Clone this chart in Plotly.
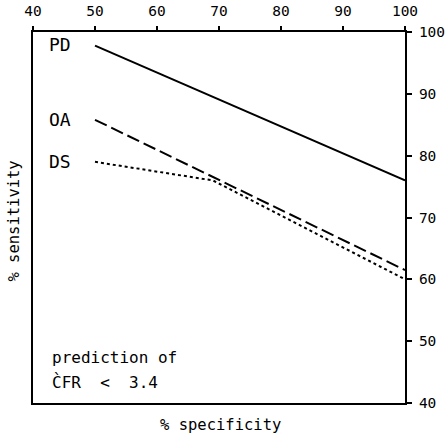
import plotly.graph_objects as go

spec_pd = [50, 100]
sens_pd = [97.8, 76]
spec_oa = [50, 100]
sens_oa = [85.8, 61.5]
spec_ds = [50, 69, 100]
sens_ds = [79, 76, 60]
tick_vals = [40, 50, 60, 70, 80, 90, 100]

FONT = "DejaVu Sans Mono"
fig = go.Figure()
fig.add_trace(go.Scatter(x=spec_pd, y=sens_pd, mode="lines",
                         line=dict(color="black", width=2, dash="solid")))
fig.add_trace(go.Scatter(x=spec_oa, y=sens_oa, mode="lines",
                         line=dict(color="black", width=2, dash="13px,5px")))
fig.add_trace(go.Scatter(x=spec_ds, y=sens_ds, mode="lines",
                         line=dict(color="black", width=2, dash="3px,3px")))

def lab(x, y, t, size=16):
    fig.add_annotation(x=x, y=y, text=t, showarrow=False, xanchor="left",
                       yanchor="middle", font=dict(family=FONT, size=size, color="black"))

lab(42.2, 97.9, "PD", 18)
lab(42.2, 85.8, "OA", 18)
lab(42.2, 79.0, "DS", 18)
lab(42.7, 47.4, "prediction of")
lab(42.7, 43.4, "C\u0300FR  <  3.4")

fig.add_annotation(xref="paper", yref="paper", x=0.503, y=-0.06, text="% specificity",
                   showarrow=False, xanchor="center", yanchor="middle",
                   font=dict(family=FONT, size=15.5, color="black"))
fig.add_annotation(xref="paper", yref="paper", x=-0.05, y=0.49, text="% sensitivity",
                   showarrow=False, textangle=-90, xanchor="center", yanchor="middle",
                   font=dict(family=FONT, size=15.5, color="black"))

fig.update_layout(
    width=446, height=441, showlegend=False,
    margin=dict(l=33, r=41, t=32, b=38),
    plot_bgcolor="white", paper_bgcolor="white",
    xaxis=dict(range=[40, 100], side="top", tickvals=tick_vals, ticks="outside",
               ticklen=4, tickcolor="black", tickwidth=1.5, showline=True,
               linecolor="black", linewidth=2, mirror=True, showgrid=False,
               zeroline=False, automargin=False, ticklabelstandoff=4,
               tickfont=dict(family=FONT, size=14.5, color="black")),
    yaxis=dict(range=[40, 100], side="right", tickvals=tick_vals, ticks="outside",
               ticklen=5, tickcolor="black", tickwidth=1.5, showline=True,
               linecolor="black", linewidth=2, mirror=True, showgrid=False,
               zeroline=False, automargin=False, ticklabelstandoff=4,
               tickfont=dict(family=FONT, size=14.5, color="black")),
)
fig.write_html("out.html")
